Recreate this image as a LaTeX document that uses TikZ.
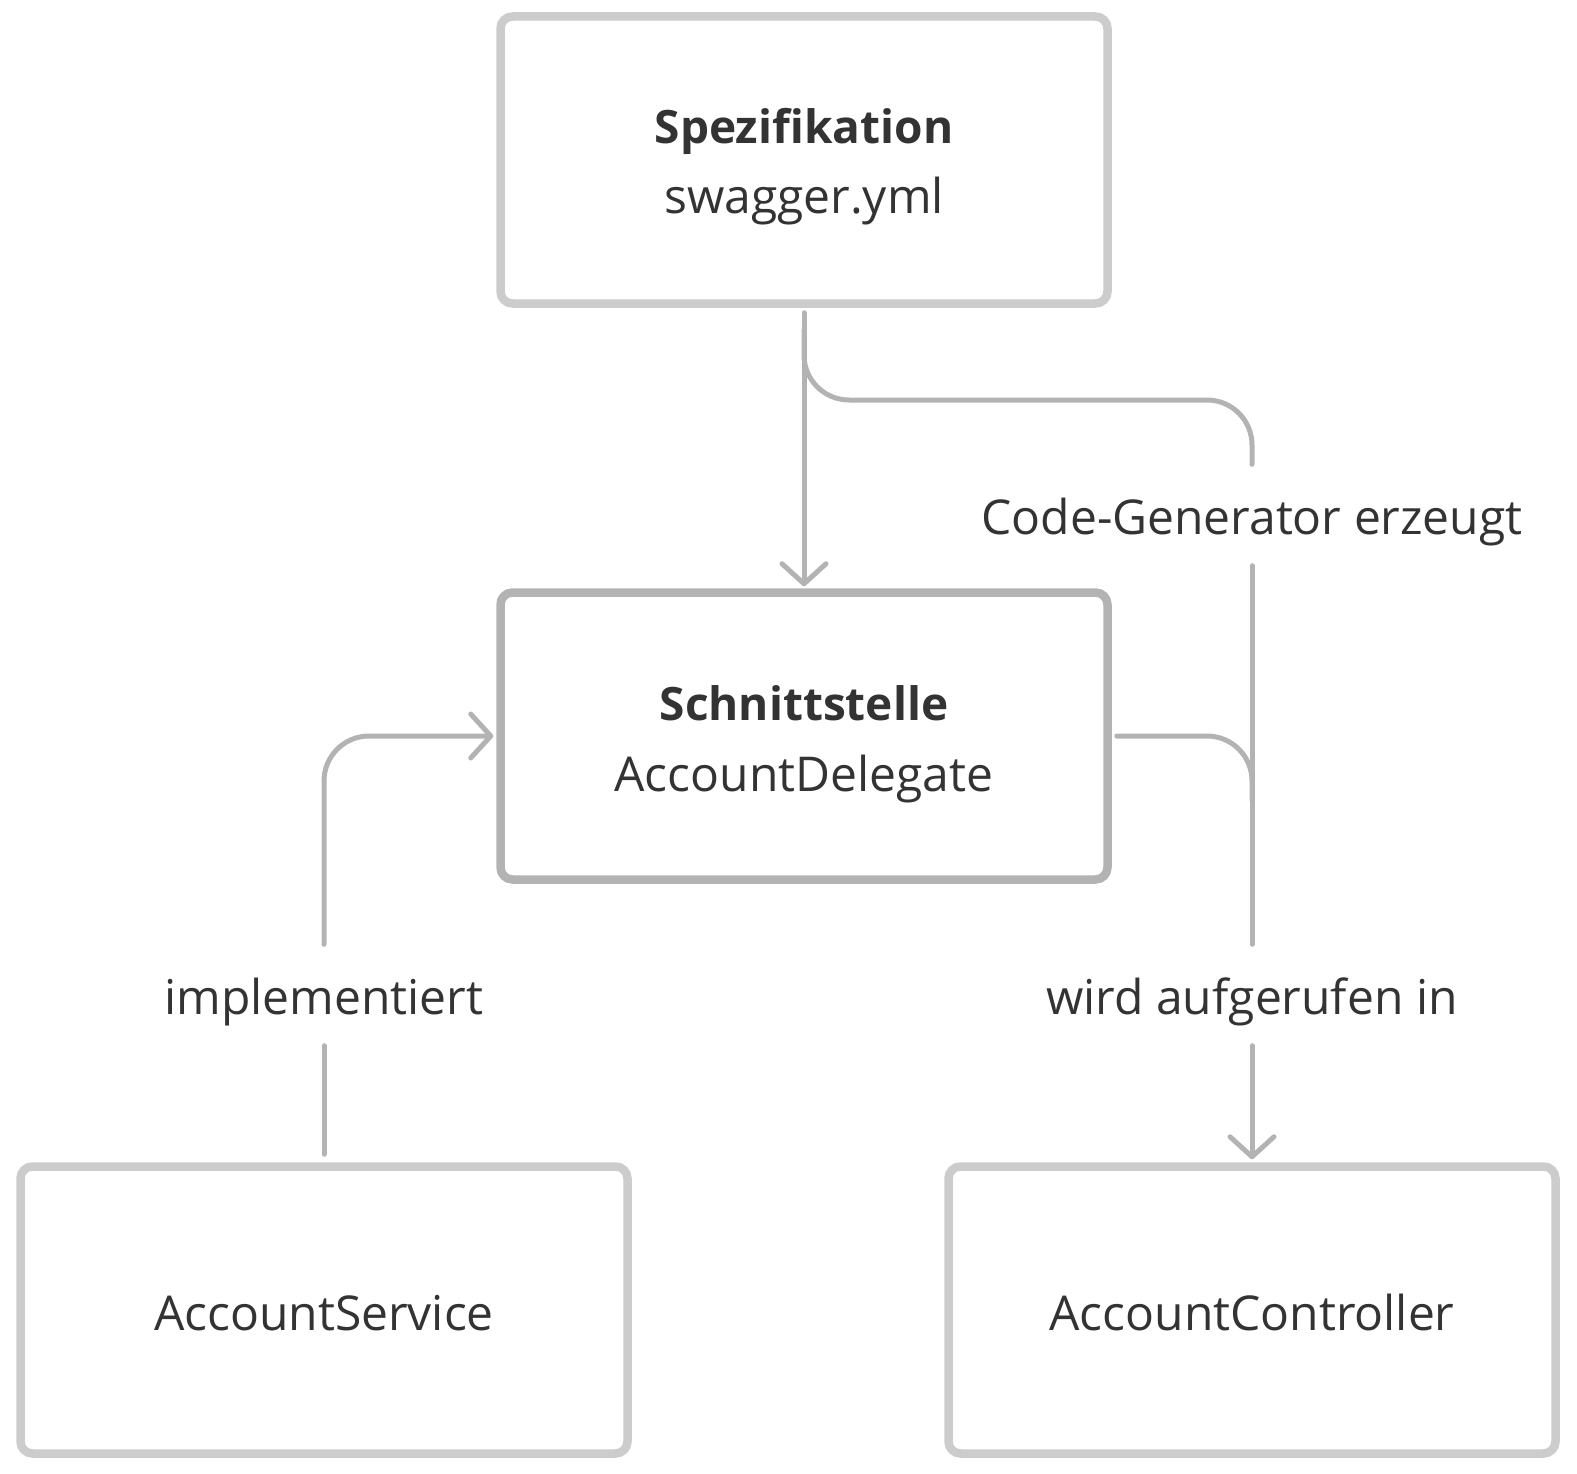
\documentclass[tikz,border=0pt]{standalone}
\usepackage{fontspec}
\setmainfont{Open Sans}
\usetikzlibrary{arrows.meta}
\definecolor{boxlight}{HTML}{CCCCCC}
\definecolor{boxdark}{HTML}{B3B3B3}
\definecolor{conn}{HTML}{B3B3B3}
\definecolor{txt}{HTML}{333333}
\begin{document}
\begin{tikzpicture}[x=1pt,y=-1pt,
  every node/.style={text=txt, font=\fontsize{48}{70}\selectfont},
  box/.style={draw=boxlight, line width=8.5pt, rounded corners=12pt, fill=white,
    minimum width=607pt, minimum height=287pt, inner sep=0pt},
  darkbox/.style={box, draw=boxdark},
  boxtext/.style={anchor=base, inner sep=0pt},
  boldtext/.style={boxtext, font=\fontsize{46}{70}\selectfont\bfseries},
  lbl/.style={inner sep=0pt, minimum height=101pt, text height=38pt, text depth=0pt},
  conn/.style={draw=conn, line width=5pt, line cap=round, rounded corners=45pt},
  tip/.style={-{Straight Barb[length=20pt 0 0, width=44pt 0 0, round]}}
]
\useasboundingbox (0,0) rectangle (1577,1474);
\node[box] (spec) at (804,160) {};
\node[boldtext] (spect) at (804,144) {Spezifikation};
\node[boxtext] (specf) at (804,214) {swagger.yml};
\node[darkbox] (iface) at (804,736) {};
\node[boldtext] (ifacet) at (804,720) {Schnittstelle};
\node[boxtext] (ifacen) at (804,791) {AccountDelegate};
\node[box] (svc) at (324,1310) {};
\node[boxtext] (svct) at (324,1330) {AccountService};
\node[box] (ctrl) at (1252,1310) {};
\node[boxtext] (ctrlt) at (1252,1330) {AccountController};

\node[lbl] (gen) at (1252,515) {Code-Generator erzeugt};
\node[lbl] (impl) at (324,995) {implementiert};
\node[lbl] (call) at (1252,995) {wird aufgerufen in};

% main generation arrow
\draw[conn, tip, shorten <=5pt, shorten >=2pt] (spec.south) -- (iface.north);
% branch to the generator label
\coordinate (branch) at (804,330);
\draw[conn] (branch) |- (gen.north |- 0,400) -- (gen.north);
% generator label down to call label
\draw[conn] (gen.south) -- (call.north);
% delegate joins the right line
\draw[conn, shorten <=5pt] (iface.east) -| (call.north |- 0,800);
% implementiert
\draw[conn, tip, shorten >=3pt] (impl.north) |- (iface.west);
\draw[conn, shorten <=8pt] (svc.north) -- (impl.south);
% wird aufgerufen in
\draw[conn, tip, shorten >=3pt] (call.south) -- (ctrl.north);
\end{tikzpicture}
\end{document}
